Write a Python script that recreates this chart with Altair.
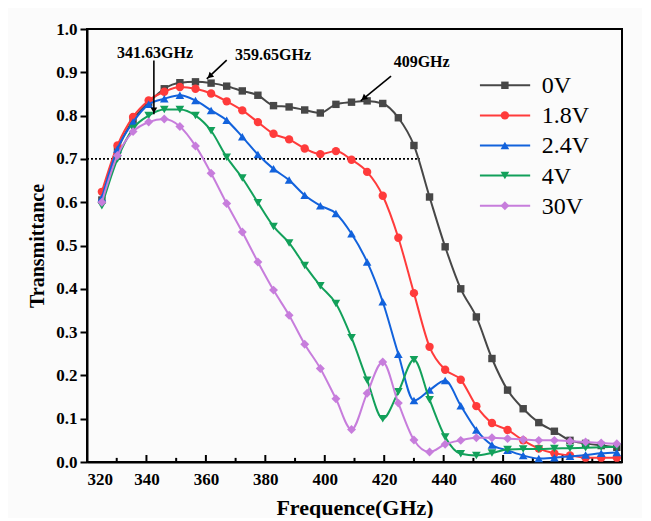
import altair as alt
import pandas as pd

# ---------------- data ----------------
series = ["0V", "1.8V", "2.4V", "4V", "30V"]
colors = ["#474747", "#ff3b3b", "#1262dc", "#12a05a", "#c77ddc"]
shapes = ["square", "circle", "triangle-up", "triangle-down", "diamond"]
sizes = [55, 70, 75, 75, 80]

freq = [325.0, 330.25, 335.5, 340.75, 346.0, 351.25, 356.5, 361.75, 367.0, 372.25,
        377.5, 382.75, 388.0, 393.25, 398.5, 403.75, 409.0, 414.25, 419.5, 424.75,
        430.0, 435.25, 440.5, 445.75, 451.0, 456.25, 461.5, 466.75, 472.0, 477.25,
        482.5, 487.75, 493.0, 498.25]

t_0v = [0.605, 0.72, 0.79, 0.83, 0.862, 0.876, 0.878, 0.875, 0.868, 0.857,
        0.847, 0.823, 0.82, 0.813, 0.806, 0.826, 0.831, 0.834, 0.828, 0.795,
        0.731, 0.612, 0.497, 0.40, 0.335, 0.239, 0.166, 0.123, 0.091, 0.071,
        0.05, 0.043, 0.038, 0.034]
t_18v = [0.624, 0.731, 0.797, 0.835, 0.855, 0.866, 0.862, 0.851, 0.833, 0.812,
         0.785, 0.758, 0.745, 0.724, 0.711, 0.718, 0.698, 0.670, 0.615, 0.518,
         0.39, 0.266, 0.213, 0.19, 0.129, 0.09, 0.074, 0.05, 0.031, 0.02,
         0.015, 0.01, 0.01, 0.01]
t_24v = [0.61, 0.723, 0.785, 0.826, 0.839, 0.847, 0.835, 0.812, 0.789, 0.751,
         0.71, 0.677, 0.651, 0.616, 0.592, 0.574, 0.527, 0.462, 0.37, 0.249,
         0.142, 0.166, 0.188, 0.13, 0.074, 0.039, 0.027, 0.015, 0.008, 0.01,
         0.013, 0.016, 0.02, 0.022]
t_4v = [0.592, 0.70, 0.77, 0.80, 0.814, 0.814, 0.80, 0.765, 0.704, 0.656,
        0.599, 0.544, 0.506, 0.454, 0.407, 0.366, 0.287, 0.189, 0.10, 0.162,
        0.236, 0.144, 0.058, 0.019, 0.015, 0.021, 0.029, 0.03, 0.03, 0.031,
        0.032, 0.033, 0.034, 0.035]
t_30v = [0.60, 0.708, 0.763, 0.785, 0.792, 0.775, 0.73, 0.667, 0.597, 0.531,
         0.462, 0.397, 0.339, 0.272, 0.216, 0.146, 0.075, 0.159, 0.231, 0.136,
         0.051, 0.023, 0.041, 0.05, 0.056, 0.056, 0.054, 0.052, 0.05, 0.05,
         0.048, 0.046, 0.044, 0.042]
values = [t_0v, t_18v, t_24v, t_4v, t_30v]

x_ticks = [320, 340, 360, 380, 400, 420, 440, 460, 480, 500]
x_minor = [330, 350, 370, 390, 410, 430, 450, 470, 490]
y_ticks = [0.0, 0.1, 0.2, 0.3, 0.4, 0.5, 0.6, 0.7, 0.8, 0.9, 1.0]

# annotations (text, text x, text y)
ann_text = ["341.63GHz", "359.65GHz", "409GHz"]
ann_tx = [342.9, 382.6, 432.6]
ann_ty = [0.944, 0.939, 0.924]
# arrows: start (f, t) -> tip (f2, t2), head centre and head angle
arr_f = [342.5, 367.0, 422.3]
arr_t = [0.927, 0.928, 0.891]
arr_f2 = [342.5, 360.3, 412.1]
arr_t2 = [0.803, 0.885, 0.834]
head_f = [342.5, 361.3, 413.1]
head_t = [0.812, 0.891, 0.840]
head_angle = [180, 227, 231]

threshold = 0.7
threshold_end = 432.0

FONT = "Liberation Serif"

# ---------------- encodings ----------------
x_enc = alt.X("f:Q", scale=alt.Scale(domain=[320, 500], nice=False, zero=False),
              axis=alt.Axis(values=x_ticks, format="d", ticks=False, grid=False,
                            domainColor="black", domainWidth=2,
                            labelFont=FONT, labelFontSize=17, labelFontWeight="bold",
                            labelColor="black", labelPadding=9,
                            title="Frequence(GHz)", titleFont=FONT, titleFontSize=22,
                            titleFontWeight="bold", titleColor="black", titlePadding=10))
y_enc = alt.Y("t:Q", scale=alt.Scale(domain=[0, 1.0], nice=False, zero=False),
              axis=alt.Axis(values=y_ticks, format=".1f", ticks=True, tickSize=7,
                            tickWidth=2, tickColor="black", grid=False,
                            domainColor="black", domainWidth=2,
                            labelFont=FONT, labelFontSize=17, labelFontWeight="bold",
                            labelColor="black", labelPadding=3,
                            title="Transmittance", titleFont=FONT, titleFontSize=20,
                            titleFontWeight="bold", titleColor="black", titlePadding=8))

layers = []

# threshold dotted line
thr_df = pd.DataFrame({"f": [320.0, threshold_end], "t": [threshold, threshold]})
layers.append(alt.Chart(thr_df).mark_line(color="black", strokeDash=[2, 2], strokeWidth=1.6)
              .encode(x=x_enc, y=y_enc))

# x ticks drawn inward
tick_df = pd.DataFrame({"f": x_ticks + x_minor,
                        "t": [0.0] * (len(x_ticks) + len(x_minor)),
                        "t2": [0.0162] * len(x_ticks) + [0.0095] * len(x_minor)})
layers.append(alt.Chart(tick_df).mark_rule(color="black", strokeWidth=2)
              .encode(x=x_enc, y=y_enc, y2="t2:Q"))

# series
for name, col, shp, sz, vals in zip(series, colors, shapes, sizes, values):
    df = pd.DataFrame({"f": freq, "t": vals, "s": name})
    base = alt.Chart(df)
    layers.append(base.mark_line(color=col, strokeWidth=2, interpolate="monotone")
                  .encode(x=x_enc, y=y_enc))
    layers.append(base.mark_point(color=col, filled=True, opacity=1, shape=shp, size=sz)
                  .encode(x=x_enc, y=y_enc))

# annotations
txt_df = pd.DataFrame({"f": ann_tx, "t": ann_ty, "label": ann_text})
layers.append(alt.Chart(txt_df).mark_text(font=FONT, fontSize=16, fontWeight="bold",
                                          color="black", baseline="middle", align="center")
              .encode(x=x_enc, y=y_enc, text="label:N"))
arr_df = pd.DataFrame({"f": arr_f, "t": arr_t, "f2": arr_f2, "t2": arr_t2})
layers.append(alt.Chart(arr_df).mark_rule(color="black", strokeWidth=1.6)
              .encode(x=x_enc, y=y_enc, x2="f2:Q", y2="t2:Q"))
head_df = pd.DataFrame({"f": head_f, "t": head_t, "a": head_angle})
layers.append(alt.Chart(head_df).mark_point(shape="triangle-up", filled=True, color="black",
                                            opacity=1, size=45)
              .encode(x=x_enc, y=y_enc, angle=alt.Angle("a:Q", scale=None)))

# manual legend
leg_rows = [0.870 - 0.0695 * i for i in range(len(series))]
leg_line_df = pd.DataFrame({"f": [452.2] * len(series), "f2": [469.1] * len(series),
                            "t": leg_rows, "s": series})
leg_txt_df = pd.DataFrame({"f": [473.0] * len(series), "t": leg_rows, "s": series})
cscale = alt.Scale(domain=series, range=colors)
layers.append(alt.Chart(leg_line_df).mark_rule(strokeWidth=2)
              .encode(x=x_enc, y=y_enc, x2="f2:Q",
                      color=alt.Color("s:N", scale=cscale, legend=None)))
for name, col, shp, sz, ty in zip(series, colors, shapes, sizes, leg_rows):
    pdf = pd.DataFrame({"f": [460.6], "t": [ty]})
    layers.append(alt.Chart(pdf).mark_point(color=col, filled=True, opacity=1, shape=shp, size=sz)
                  .encode(x=x_enc, y=y_enc))
layers.append(alt.Chart(leg_txt_df).mark_text(font=FONT, fontSize=24, color="black",
                                              align="left", baseline="middle", dy=1)
              .encode(x=x_enc, y=y_enc, text="s:N"))

chart = (alt.layer(*layers)
         .properties(width=535, height=433,
                     padding={"left": 79, "top": 21, "right": 20, "bottom": 56},
                     autosize=alt.AutoSizeParams(type="none"),
                     background="#fbfbfb")
         .configure_view(stroke="black", strokeWidth=2))

chart.save("out.html", embed_options={"renderer": "svg", "actions": False})
